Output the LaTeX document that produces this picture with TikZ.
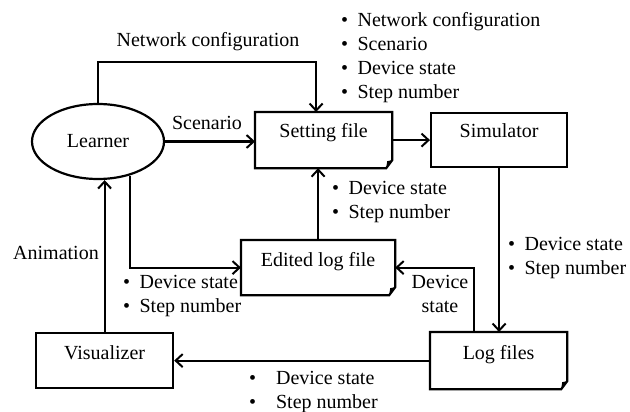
\documentclass[tikz,border=0pt]{standalone}
\usepackage{fontspec}
\setmainfont{Liberation Serif}
\usetikzlibrary{arrows.meta,shapes.geometric}
\newcommand\bl{\textbullet\hspace{9.5pt}}
\newcommand\docoutline[1]{%
  \draw[line join=miter] (#1.north west) -- (#1.north east) -- ([yshift=8]#1.south east) -- ([xshift=-6]#1.south east) -- (#1.south west) -- cycle;
  \fill ([yshift=8]#1.south east) -- ([xshift=-6]#1.south east) -- ([xshift=-5,yshift=7]#1.south east) -- cycle;}
\begin{document}
\begin{tikzpicture}[x=1pt,y=-1pt,
  font=\fontsize{20}{24}\selectfont,
  line width=2.2pt,
  arr/.style={-{Straight Barb[length=7pt,width=13pt,line width=2pt]}},
  boxn/.style={rectangle, anchor=north west, inner sep=0pt, minimum height=0pt},
  lbl/.style={inner sep=0pt, align=left, anchor=north west}]
\useasboundingbox (0,0) rectangle (630,412);
\fill[white] (0,0) rectangle (630,412);

% nodes
\node[ellipse, draw, minimum width=132, minimum height=75, inner sep=0pt] (learner) at (98,141.5) {Learner};
\node[boxn, minimum width=135, text height=24, text depth=30] (setting) at (255,112) {Setting file};
\node[boxn, draw, minimum width=136, text height=24, text depth=30] (simulator) at (430,112) {Simulator};
\node[boxn, minimum width=152, text height=25, text depth=28] (edited) at (241,240) {Edited log file};
\node[boxn, draw, minimum width=137, text height=26, text depth=29] (visualizer) at (35,332) {Visualizer};
\node[boxn, minimum width=135, text height=26, text depth=29] (logf) at (430,332) {Log files};
\docoutline{setting}
\docoutline{edited}
\docoutline{logf}

% connectors
\coordinate (nc) at (0,62);
\draw[arr] (learner.north) -- (learner.north |- nc) -| ([xshift=-7.5]setting.north);
\draw[arr] (learner.east) -- (learner.east -| setting.west);
\draw[arr] (setting.east) -- (simulator.west);
\draw[arr] (simulator.south) -- (simulator.south |- logf.north);
\draw[arr] ([xshift=-25]logf.north) |- (edited.east);
\draw[arr] (edited.north) -- (edited.north |- setting.south);
\draw[arr] (learner.-47) |- (edited.west);
\draw[arr] (visualizer.north) -- (visualizer.north |- learner.south);
\draw[arr] (logf.west) -- (visualizer.east);

% labels
\node[inner sep=0pt, anchor=base] (lnc) at (208,47) {Network configuration};
\node[inner sep=0pt, anchor=base] (lsc) at (207,129) {Scenario};
\node[inner sep=0pt, anchor=base] (lan) at (56,259) {Animation};
\node[lbl] (ltop) at (340,11.3) {\bl Network configuration\\\bl Scenario\\\bl Device state\\\bl Step number};
\node[lbl] (les) at (331,180) {\bl Device state\\\bl Step number};
\node[lbl] (lsl) at (507,236) {\bl Device state\\\bl Step number};
\node[lbl] (lle) at (122,274) {\bl Device state\\\bl Step number};
\node[inner sep=0pt, align=center, anchor=north] (lld) at (440,274) {Device\\state};
\node[lbl] (llv) at (248,370) {\textbullet\hspace{20pt}Device state\\\textbullet\hspace{20pt}Step number};
\end{tikzpicture}
\end{document}
